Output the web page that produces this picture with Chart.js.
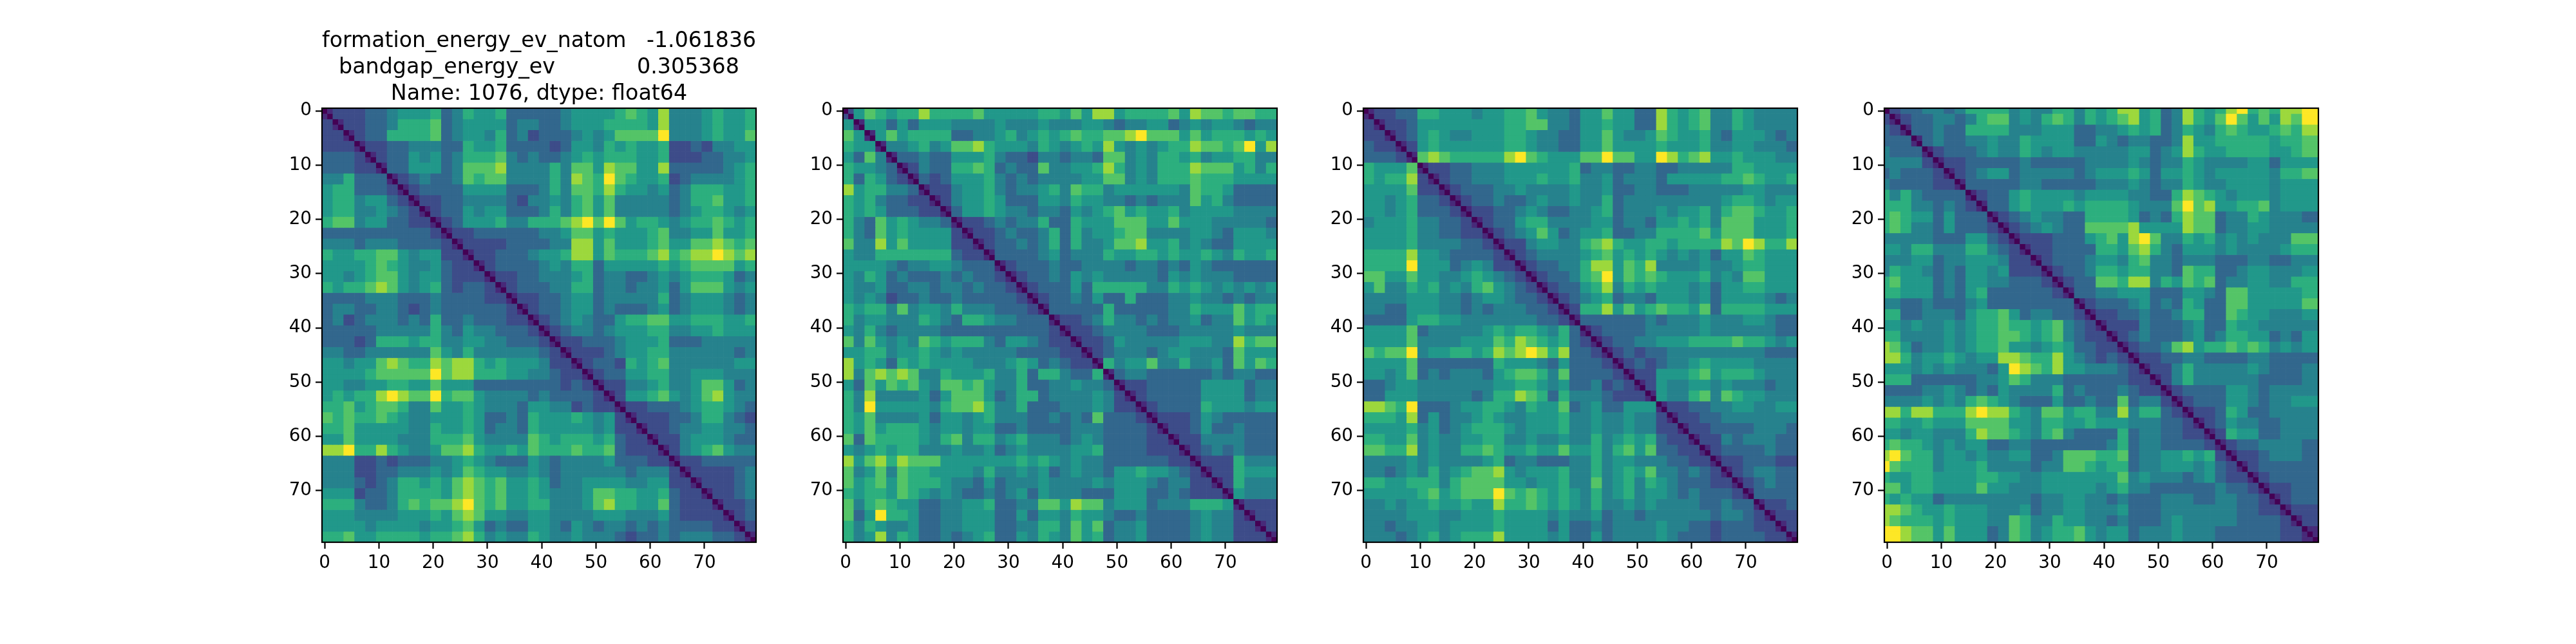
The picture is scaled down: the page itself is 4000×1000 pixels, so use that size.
<!DOCTYPE html>
<html>
<head>
<meta charset="utf-8">
<script src="https://cdn.jsdelivr.net/npm/chart.js@4"></script>
<style>
  body { margin: 0; background: #fff; width: 4000px; height: 1000px; position: relative; overflow: hidden; }
  canvas { position: absolute; top: 0; }
</style>
</head>
<body>
<canvas id="c0"></canvas>
<canvas id="c1"></canvas>
<canvas id="c2"></canvas>
<canvas id="c3"></canvas>
<script>
// tick labels and title
const tickLabels = [0, 10, 20, 30, 40, 50, 60, 70];
const titleLines = ['formation_energy_ev_natom   -1.061836', 'bandgap_energy_ev            0.305368', 'Name: 1076, dtype: float64'];
const cellsPerSide = 80;
const cellsPerBlock = 2;

// values, 0-9 scale, upper triangle of each matrix in 2-cell blocks (right aligned)
const matrixA = [
  '1222334555 6346556333 3345555676 5844456556',
  '122334666 7345555344 3345556666 5844456556',
  '12336666 7345546342 3334545777 7944456557',
  '1223344 4336556333 3235546565 5622324455',
  '123354 5346667434 3345656665 5622233445',
  '13355 5347778444 4647758775 5833333456',
  '1234 3347677444 4648769765 5623444456',
  '123 3335555333 4647768655 4534666556',
  '12 2334444324 4546757444 4434667556',
  '1 2335455333 4646757444 4434566545',
  '1235556446 6678979756 6545667656',
  '122333333 4457756555 6744557556',
  '12222333 3448857555 6755778767',
  '1223334 5568857666 7867889878',
  '123333 4546635555 5656777756',
  '12233 4445634433 4545666534',
  '1233 3446634434 4535777545',
  '122 3345534444 4634555434',
  '12 3345534333 4534555434',
  '1 2345433566 7755666556',
  '1234434555 6644556555',
  '122333455 5633344444',
  '12223455 6644444434',
  '1233265 6744444455',
  '123355 6644555444',
  '12244 5644577534',
  '1255 6754578544',
  '122 3334566543',
  '12 2233466432',
  '1 2234455443',
  '1224555433',
  '124567544',
  '12233333',
  '1222234',
  '122234',
  '12234',
  '1223',
  '123',
  '12',
  '1'
];
const matrixB = [
  '2576566866 6675555566 5758856666 7587767766',
  '155353555 4444544454 4455434455 3454554344',
  '15756666 3344564565 6766778977 7575666565',
  '1445645 7786555465 4565854545 6687767958',
  '133433 5556433244 3443774546 6564556644',
  '12433 6676343374 4556864546 6687775646',
  '1323 5556434344 4455774546 6676665555',
  '122 4556434456 4766455555 5476653333',
  '12 4556533355 4655443434 4475643333',
  '1 3556544344 3545675655 6455554444',
  '1223434463 3655577755 7555444443',
  '122343346 3645567744 4455435554',
  '12334346 3644577855 6454335555',
  '1333345 3444655665 6556546556',
  '123334 3344443443 4354333333',
  '12334 3545444443 5454443333',
  '1233 3536666644 6565454545',
  '123 3435336333 4454434344',
  '13 3333633333 4465557566',
  '1 2234644343 4453447565',
  '1223444433 3444445444',
  '122354444 4555448677',
  '12344434 5544437555',
  '1645574 4644537576',
  '134433 3333434433',
  '12233 3335555344',
  '1233 3335555344',
  '123 3336555455',
  '12 2235433333',
  '1 2235334333',
  '1224444333',
  '123434333',
  '12226444',
  '1226555',
  '126444',
  '15444',
  '1222',
  '122',
  '12',
  '1'
];
const matrixC = [
  '1223366555 4556675443 5575533865 6744654444',
  '122355555 5556677443 5565533865 6744654444',
  '12356544 5556654433 5575445765 5643555434',
  '1256555 5556654433 5575555655 5644554443',
  '178766 6668976555 7797755986 7855655544',
  '12233 4445555556 3443344334 4444665555',
  '1233 4445556556 4453444355 5556676556',
  '123 3344544445 4453344333 4444455444',
  '12 3343345445 4463444444 4445665455',
  '1 2233454334 4563444545 5646776556',
  '1233566444 4553443556 5647775556',
  '123457534 5563344666 6757775556',
  '12245544 6786556656 6668798668',
  '1234444 5675656545 4535576555',
  '123344 6885768444 4544566555',
  '12334 6795767655 5645477555',
  '1233 5684656555 4535566555',
  '123 4563443555 4535555434',
  '12 6685756766 5736666555',
  '1 3333334344 4544455433',
  '1233334444 4544444433',
  '123344555 6666766545',
  '12323344 4444444333',
  '1232344 5655554444',
  '122555 6756665444',
  '12544 5545444344',
  '1544 6747655444',
  '122 3344554455',
  '12 2334444444',
  '1 2233334443',
  '1224344433',
  '123333433',
  '12233322',
  '1234433',
  '123433',
  '13333',
  '1223',
  '122',
  '12',
  '1'
];
const matrixD = [
  '1233443466 6645446646 5688563486 5689676889',
  '123344346 7745467646 5678563486 5797575879',
  '13343366 6644455533 4456563465 4676556768',
  '1343344 5446555533 5434433485 5666665667',
  '123334 5446545544 4445534586 5566665567',
  '12233 3334333334 4445434465 4444553555',
  '1234 5534444434 5556535565 4555554667',
  '133 3334433333 4445434465 4455554555',
  '12 3356555545 5554433687 6545554555',
  '1 3356555656 6665444797 8556674555',
  '1234544336 6665343687 7344654443',
  '123454337 7778555587 7344554444',
  '12223335 6758974465 6454544477',
  '1223333 6657864355 5454444566',
  '123334 5546744344 4333443344',
  '12334 6656644376 6334554445',
  '1233 7768846576 7344554466',
  '133 4455533355 4377555556',
  '12 3334534365 3377555557',
  '1 2233433466 3376554445',
  '1222433345 3365544444',
  '123433345 3466553435',
  '12334785 6676764545',
  '1223344 3333443333',
  '122464 4444543334',
  '12464 4444433334',
  '1233 3355434444',
  '123 3355434455',
  '12 2365334444',
  '1 2354433444',
  '1265533444',
  '123344443',
  '12234443',
  '1233333',
  '123333',
  '12233',
  '1233',
  '122',
  '12',
  '1'
];
const matrices = [matrixA, matrixB, matrixC, matrixD];
// matrixD's clusters start on odd cells
const blockShifts = [0, 0, 0, 1];
// colormap position of each digit
const digitLevels = [0, 0.12, 0.23, 0.33, 0.44, 0.53, 0.63, 0.73, 0.85, 1];

const viridis = ['#440154', '#482475', '#414487', '#355f8d', '#2a788e', '#21918c', '#22a884', '#44bf70', '#7ad151', '#bddf26', '#fde725'];
const hex = s => [1, 3, 5].map(i => parseInt(s.slice(i, i + 2), 16));
function viridisColor(t) {
  const p = Math.min(t, 0.9999) * (viridis.length - 1), i = Math.floor(p), f = p - i;
  const a = hex(viridis[i]), b = hex(viridis[i + 1]);
  return 'rgb(' + a.map((v, k) => Math.round(v + (b[k] - v) * f)).join(',') + ')';
}

const blocks = cellsPerSide / cellsPerBlock;
function cellValue(n, row, col) {
  if (row === col) return 0;
  const blockOf = i => Math.min(Math.floor((i + blockShifts[n]) / cellsPerBlock), blocks - 1);
  let r = blockOf(row), c = blockOf(col);
  if (c < r) [r, c] = [c, r];
  const s = matrices[n][r].replace(/\s/g, '');
  const d = s[s.length - (blocks - c)];
  return digitLevels[d === undefined ? 4 : +d];
}

const cells = Array.from({ length: cellsPerSide }, (_, i) => i);
const plotSize = 674, plotTop = 168, plotLefts = [500, 1309, 2117, 2926];
const leftGutter = 100, rightGutter = 30, canvasH = 1000;

const frame = {
  id: 'frame',
  afterDraw(chart) {
    const a = chart.chartArea, g = chart.ctx;
    g.save();
    g.strokeStyle = '#000';
    g.lineWidth = 2.2;
    g.strokeRect(a.left, a.top, a.right - a.left, a.bottom - a.top);
    g.restore();
  }
};

matrices.forEach((matrix, n) => {
  const canvas = document.getElementById('c' + n);
  canvas.width = leftGutter + plotSize + rightGutter;
  canvas.height = canvasH;
  canvas.style.left = (plotLefts[n] - leftGutter) + 'px';
  const tickFont = { family: 'DejaVu Sans', size: 27.8 };
  const axisGrid = { offset: false, drawOnChartArea: false, tickLength: 10, tickWidth: 2.2, tickColor: '#000' };
  const setTicks = ax => { ax.ticks = tickLabels.map(v => ({ value: v })); };
  new Chart(canvas, {
    type: 'bar',
    data: {
      labels: cells,
      datasets: cells.map(row => ({
        label: 'row ' + row,
        data: cells.map(() => [row - 0.5, row + 0.5]),
        backgroundColor: cells.map(col => viridisColor(cellValue(n, row, col))),
        grouped: false,
        categoryPercentage: 1,
        barPercentage: 1
      }))
    },
    options: {
      responsive: false,
      devicePixelRatio: 1,
      animation: false,
      events: [],
      layout: { padding: { top: n === 0 ? 0 : plotTop, right: rightGutter } },
      plugins: {
        legend: { display: false },
        tooltip: { enabled: false },
        title: {
          display: n === 0,
          text: titleLines,
          fullSize: false,
          color: '#000',
          font: { family: 'DejaVu Sans', size: 33.3, weight: 'normal', lineHeight: 41 / 33.3 },
          padding: { top: plotTop - 123 - 1, bottom: 1 }
        }
      },
      scales: {
        x: {
          afterBuildTicks: setTicks,
          afterFit: ax => { ax.height = canvasH - plotTop - plotSize; },
          grid: axisGrid,
          border: { display: false },
          ticks: { autoSkip: false, maxRotation: 0, color: '#000', font: tickFont, padding: 6 }
        },
        y: {
          reverse: true,
          min: -0.5,
          max: cellsPerSide - 0.5,
          afterBuildTicks: setTicks,
          afterFit: ax => { ax.width = leftGutter; },
          grid: axisGrid,
          border: { display: false },
          ticks: { autoSkip: false, color: '#000', font: tickFont, padding: 6 }
        }
      }
    },
    plugins: [frame]
  });
});
</script>
</body>
</html>
